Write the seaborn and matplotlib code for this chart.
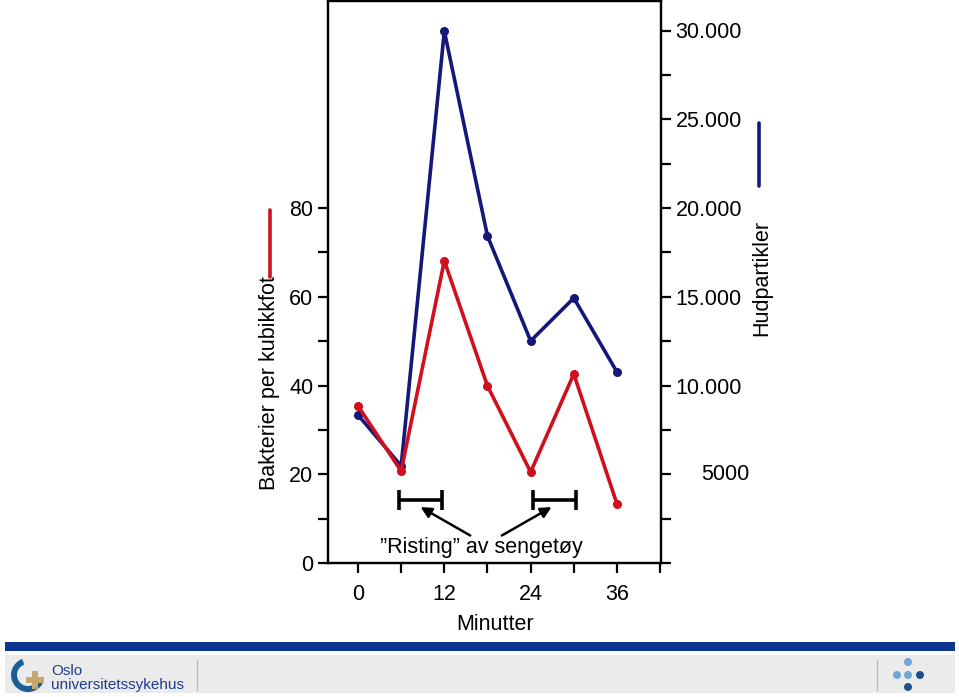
import matplotlib.pyplot as plt
import numpy as np
import pandas as pd
import seaborn as sns
from matplotlib.patches import Circle, Rectangle, Wedge
from matplotlib.ticker import FixedLocator, MultipleLocator

# data
minutes = [0, 6, 12, 18, 24, 30, 36]
bacteria = [35.4, 20.7, 68.1, 39.9, 20.5, 42.6, 13.3]          # per cubic foot
skin_particles = [8340, 5470, 29970, 18420, 12510, 14930, 10760]
shaking_periods = [(5.7, 11.7), (24.3, 30.3)]
shaking_level = 14.2

left_ticks = [0, 20, 40, 60, 80]
right_ticks = [10000, 15000, 20000, 25000, 30000]
right_labels = ["10.000", "15.000", "20.000", "25.000", "30.000"]

RED = "#d0101c"
NAVY = "#16177a"
W, H = 959, 697

sns.set_style("ticks")
plt.rcParams["font.family"] = ["Liberation Sans", "DejaVu Sans"]
plt.rcParams.update({
    "text.color": "black",
    "axes.labelcolor": "black",
    "xtick.color": "black",
    "ytick.color": "black",
})

df = pd.DataFrame(
    {"Minutter": minutes, "Bakterier": bacteria, "Hud": skin_particles}
)

fig = plt.figure(figsize=(W / 100, H / 100), dpi=100)

# overlay in pixel coords for slide decorations
bg = fig.add_axes([0, 0, 1, 1], zorder=-1)
bg.set_xlim(0, W)
bg.set_ylim(H, 0)
bg.axis("off")

ax = fig.add_axes([328 / W, 1 - 563 / H, 333 / W, 562 / H])
ax2 = ax.twinx()

px_per_unit = 355 / 80
ymax = 562 / px_per_unit
ax.set_ylim(0, ymax)
ax2.set_ylim(0, ymax * 250)
ax.set_xlim(-4.17, 42.12)

sns.lineplot(
    data=df, x="Minutter", y="Hud", ax=ax2, color=NAVY, lw=2.6,
    marker="o", markersize=6.5, markeredgewidth=0, zorder=3,
)
sns.lineplot(
    data=df, x="Minutter", y="Bakterier", ax=ax, color=RED, lw=2.6,
    marker="o", markersize=6.5, markeredgewidth=0, zorder=3,
)
ax.set_zorder(ax2.get_zorder() + 1)
ax.patch.set_visible(False)

# shaking intervals
for start, end in shaking_periods:
    ax.errorbar(
        (start + end) / 2, shaking_level, xerr=(end - start) / 2,
        color="black", lw=2.6, capsize=7, capthick=2.6, fmt="none",
    )

ax.text(17.2, 3.4, "\u201dRisting\u201d av sengetøy", ha="center",
        va="center", fontsize=15.5)
for tail, head in [((15.6, 6.2), (8.7, 12.6)), ((20.0, 6.2), (26.9, 12.6))]:
    ax.annotate("", xy=head, xytext=tail,
                arrowprops=dict(arrowstyle="-|>", color="black", lw=1.8,
                                mutation_scale=16, shrinkA=0, shrinkB=0))

# axes styling
for a in (ax, ax2):
    for s in a.spines.values():
        s.set_linewidth(1.6)
        s.set_color("black")
        s.set_visible(True)

ax.xaxis.set_major_locator(FixedLocator([0, 12, 24, 36]))
ax.xaxis.set_minor_locator(FixedLocator([6, 18, 30, 42]))
ax.yaxis.set_major_locator(FixedLocator(left_ticks))
ax.yaxis.set_minor_locator(FixedLocator([10, 30, 50, 70]))
ax.tick_params(which="both", length=7, width=1.6, labelsize=15.5, pad=3.5)
ax.tick_params(axis="x", which="both", pad=8)
ax.set_xlabel("")
ax.set_ylabel("")

ax2.yaxis.set_major_locator(FixedLocator([0, 5000] + right_ticks))
ax2.yaxis.set_minor_locator(MultipleLocator(2500))
ax2.set_yticklabels([""] + [""] + right_labels)
ax2.tick_params(which="both", length=7, width=1.6, labelsize=15.5, pad=3.5)
ax2.set_ylabel("")
ax2.text(1.192, 5000, "5000", transform=ax2.get_yaxis_transform(),
         ha="center", va="center", fontsize=15.5)

# axis titles with colour keys
bg.text(270, 383, "Bakterier per kubikkfot", rotation=90, ha="center",
        va="center", fontsize=15.5)
bg.plot([270, 270], [210, 277], color=RED, lw=2.6)
bg.text(762, 278, "Hudpartikler", rotation=90, ha="center", va="center",
        fontsize=15.5)
bg.plot([759, 759], [123, 186], color=NAVY, lw=2.6)
bg.text(495, 625, "Minutter", ha="center", va="center", fontsize=15.5)

# slide footer
bg.add_patch(Rectangle((5, 642), 950, 9, color="#0a3590", lw=0))
bg.add_patch(Rectangle((5, 655), 950, 38, color="#ebebeb", lw=0))
bg.add_patch(Wedge((28, 675), 17, 30, 250, width=6, color="#1b5d95", lw=0))
bg.add_patch(Rectangle((26, 677), 18, 6, color="#c6a86a", lw=0))
bg.add_patch(Rectangle((32, 671), 6, 18, color="#c6a86a", lw=0))
bg.text(51, 671, "Oslo", fontsize=11, color="#1f3d8c", va="center")
bg.text(51, 685, "universitetssykehus", fontsize=11, color="#1f3d8c",
        va="center")
bg.plot([197, 197], [660, 690], color="#bdbdbd", lw=1)
bg.plot([877, 877], [660, 690], color="#bdbdbd", lw=1)
for cx, cy, c in [(908, 662, "#70a7d8"), (897, 675, "#70a7d8"),
                  (908, 675, "#70a7d8"), (920, 675, "#1d4f8f"),
                  (908, 687, "#1d4f8f")]:
    bg.add_patch(Circle((cx, cy), 4, color=c, lw=0))

fig.savefig("out.png", dpi=100)
